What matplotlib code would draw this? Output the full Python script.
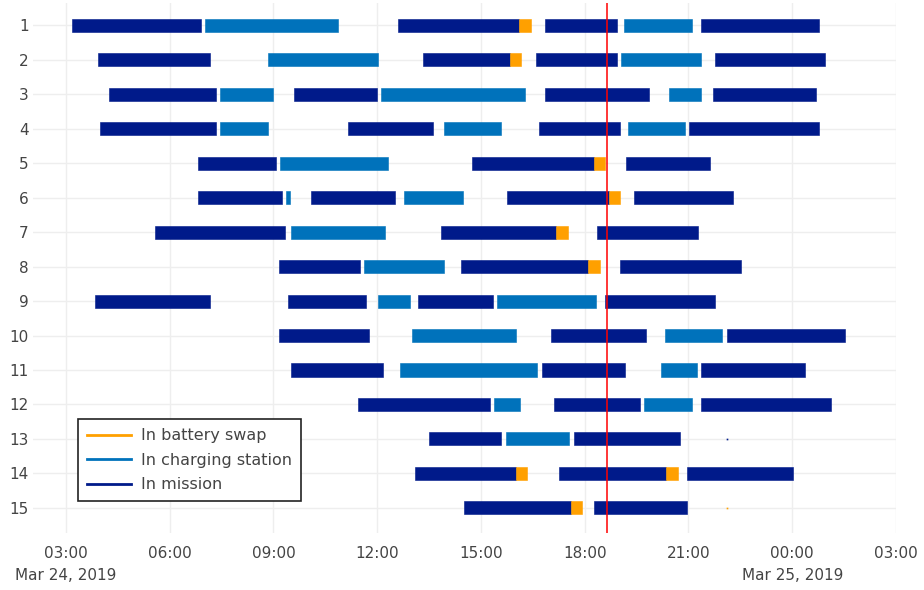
import numpy as np
import pandas as pd
import matplotlib
matplotlib.use('Agg')
import matplotlib.pyplot as plt
import matplotlib.dates as mdates
from matplotlib.lines import Line2D

# Robot activity on Mar 24, 2019. Times are "HH:MM" counted from midnight
# of Mar 24, so values above 24:00 run into the next day.
mission = [
    (1, "03:10", "06:55"), (1, "12:36", "16:06"), (1, "16:51", "18:56"), (1, "21:21", "24:47"),
    (2, "03:55", "07:10"), (2, "13:20", "15:51"), (2, "16:36", "18:56"), (2, "21:46", "24:57"),
    (3, "04:14", "07:20"), (3, "09:36", "12:00"), (3, "16:51", "19:51"), (3, "21:42", "24:42"),
    (4, "04:00", "07:20"), (4, "11:10", "13:36"), (4, "16:41", "19:01"), (4, "21:01", "24:47"),
    (5, "06:50", "09:05"), (5, "14:45", "18:17"), (5, "19:11", "21:37"),
    (6, "06:50", "09:15"), (6, "10:05", "12:31"), (6, "15:46", "18:42"), (6, "19:26", "22:17"),
    (7, "05:35", "09:20"), (7, "13:51", "17:11"), (7, "18:21", "21:16"),
    (8, "09:10", "11:31"), (8, "14:26", "18:06"), (8, "19:01", "22:31"),
    (9, "03:50", "07:10"), (9, "09:25", "11:41"), (9, "13:11", "15:21"), (9, "18:35", "21:46"),
    (10, "09:10", "11:46"), (10, "17:01", "19:46"), (10, "22:06", "25:32"),
    (11, "09:31", "12:10"), (11, "16:46", "19:10"), (11, "21:21", "24:22"),
    (12, "11:26", "15:16"), (12, "17:06", "19:36"), (12, "21:21", "25:07"),
    (13, "13:30", "15:35"), (13, "17:41", "20:46"), (13, "22:06", "22:06"),
    (14, "13:06", "16:01"), (14, "17:16", "20:21"), (14, "20:57", "24:01"),
    (15, "14:31", "17:36"), (15, "18:16", "20:57"),
]
charging = [
    (1, "07:02", "10:52"), (1, "19:09", "21:06"),
    (2, "08:51", "12:02"), (2, "19:03", "21:21"),
    (3, "07:27", "08:59"), (3, "12:07", "16:17"), (3, "20:26", "21:21"),
    (4, "07:27", "08:50"), (4, "13:56", "15:35"), (4, "19:15", "20:54"),
    (5, "09:12", "12:19"),
    (6, "09:21", "09:29"), (6, "12:47", "14:29"),
    (7, "09:31", "12:14"),
    (8, "11:38", "13:56"),
    (9, "12:02", "12:57"), (9, "15:28", "18:19"),
    (10, "13:01", "16:00"), (10, "20:19", "21:59"),
    (11, "12:39", "16:37"), (11, "20:12", "21:14"),
    (12, "15:23", "16:08"), (12, "19:43", "21:06"),
    (13, "15:43", "17:32"),
]
swap = [
    (1, "16:06", "16:26"), (2, "15:51", "16:10"), (5, "18:17", "18:35"),
    (6, "18:42", "19:01"), (7, "17:11", "17:31"), (8, "18:06", "18:26"),
    (14, "16:01", "16:20"), (14, "20:21", "20:41"), (15, "17:36", "17:56"),
    (15, "22:06", "22:06"),
]
now = "18:38"

day0 = pd.Timestamp("2019-03-24")
colors = {"In battery swap": "#FFA000",
          "In charging station": "#0072BB",
          "In mission": "#001A8A"}


def to_time(s):
    h, m = s.split(":")
    return day0 + pd.Timedelta(hours=int(h), minutes=int(m))


fig = plt.figure(figsize=(9.24, 5.9), dpi=100)
ax = fig.add_axes([33 / 924, 1 - 533 / 590, 863 / 924, 530 / 590])

for name, rows in [("In mission", mission), ("In charging station", charging),
                   ("In battery swap", swap)]:
    for robot, start, end in rows:
        t0 = mdates.date2num(to_time(start))
        t1 = mdates.date2num(to_time(end))
        if t1 == t0:
            # zero-length state shows up as a single dot
            ax.plot(t0, robot, marker="s", ms=1.2, mew=0, color=colors[name], zorder=3)
            continue
        ax.barh(robot, t1 - t0, left=t0, height=0.38, color=colors[name],
                edgecolor=colors[name], linewidth=0.4, zorder=3)

# current time marker
ax.axvline(mdates.date2num(to_time(now)), color="#FF0000", lw=1.1, zorder=4)

ax.set_xlim(mdates.date2num(to_time("02:03")), mdates.date2num(to_time("27:00")))
ax.set_ylim(15.73, 0.35)
ax.set_yticks(np.arange(1, 16))

ticks = [to_time("%02d:00" % h) for h in range(3, 28, 3)]
ax.set_xticks(mdates.date2num(ticks))
labels = []
for i, t in enumerate(ticks):
    lab = t.strftime("%H:%M")
    if i == 0 or (t.hour == 0 and t.minute == 0):
        lab += "\n" + t.strftime("%b %d, %Y")
    labels.append(lab)
ax.set_xticklabels(labels, ha="center", va="top", linespacing=1.6)

ax.grid(True, color="#EEEEEE", lw=1, zorder=0)
for sp in ax.spines.values():
    sp.set_visible(False)
ax.tick_params(length=0, colors="#444444", labelsize=11)
ax.tick_params(axis="x", pad=9)
ax.tick_params(axis="y", pad=3)

handles = [Line2D([], [], color=colors[k], lw=2) for k in colors]
leg = ax.legend(handles, list(colors), loc="lower left",
                bbox_to_anchor=(0.052, 0.06), borderaxespad=0,
                fontsize=11.5, handlelength=2.8, labelspacing=0.6,
                handletextpad=0.6, borderpad=0.55,
                fancybox=False, framealpha=1, edgecolor="#222222")
leg.get_frame().set_linewidth(1.2)
for txt in leg.get_texts():
    txt.set_color("#444444")

fig.savefig("out.png", dpi=100)
